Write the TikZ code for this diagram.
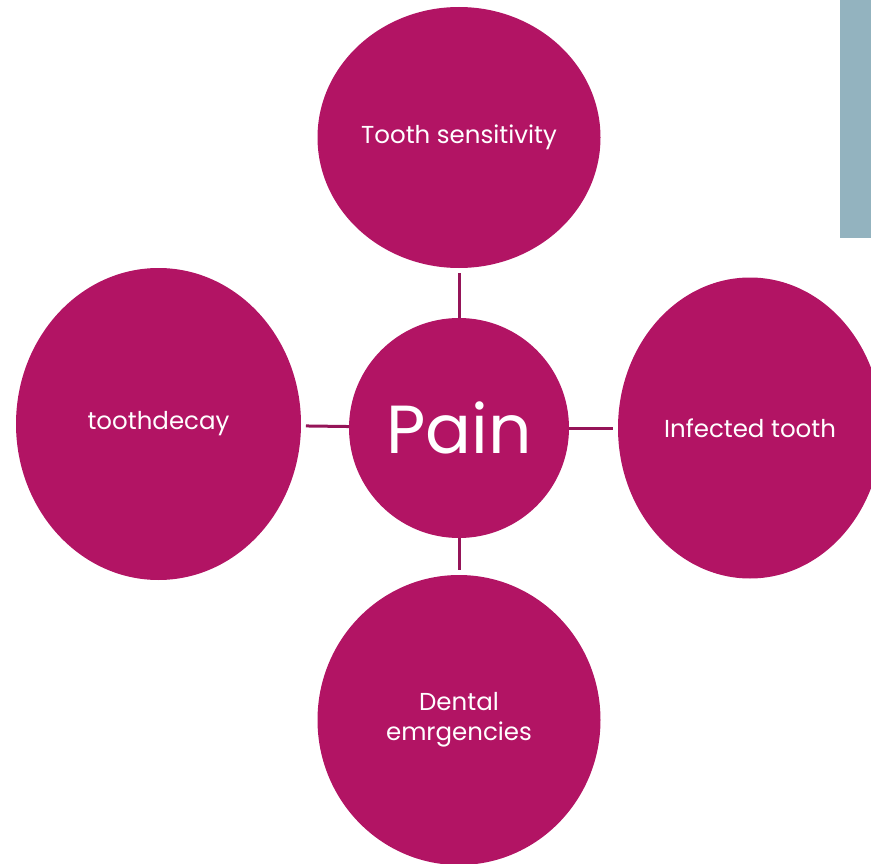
\documentclass[tikz,border=0pt]{standalone}
\usepackage{fontspec}
\setmainfont{Poppins}
\definecolor{painFill}{HTML}{B21464}
\definecolor{painLink}{HTML}{951458}
\definecolor{sideBar}{HTML}{93B3BF}
\usetikzlibrary{positioning,shapes.geometric}

\begin{document}
\begin{tikzpicture}[
  blob/.style={ellipse, fill=painFill, text=white, inner sep=0pt, outer sep=0pt, align=center, font=\fontsize{24.5}{30}\selectfont},
  link/.style={draw=painLink, line width=3pt, shorten >=5pt}
]
  \useasboundingbox (0,0) rectangle (871pt,-864pt);
  \fill[sideBar] (840pt,0) rectangle (871pt,-238pt);

  \node[blob, minimum width=220pt, minimum height=220pt, font=\fontsize{68}{76}\selectfont] (pain) at (459pt,-428pt) {Pain};

  \node[blob, minimum width=283pt, minimum height=261pt, above=50pt of pain] (sensitivity) {Tooth sensitivity};
  \node[blob, minimum width=285pt, minimum height=312pt, left=48pt of pain, yshift=4pt] (decay) {toothdecay};
  \node[blob, minimum width=264pt, minimum height=301pt, right=49pt of pain] (infected) {Infected tooth};
  \node[blob, minimum width=283pt, minimum height=290pt, below=37pt of pain] (emergency) {Dental\\emrgencies};

  \draw[link] (pain) -- (sensitivity);
  \draw[link] (pain) -- (decay);
  \draw[link] (pain) -- (infected);
  \draw[link] (pain) -- (emergency);
\end{tikzpicture}
\end{document}
